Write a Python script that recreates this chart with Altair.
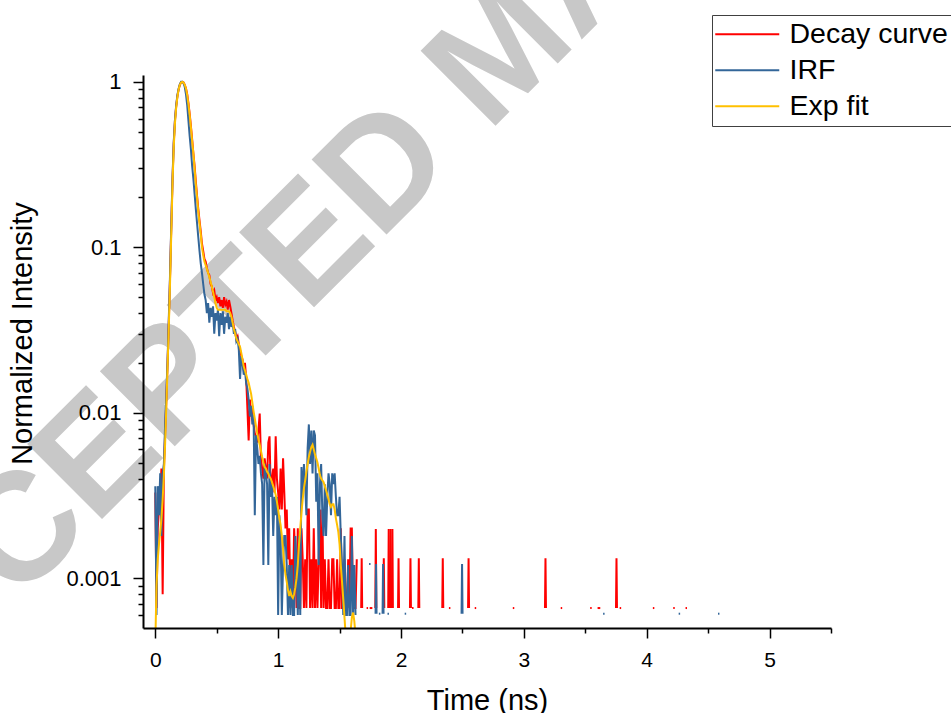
import altair as alt
import pandas as pd

SERIES = ["Decay curve", "IRF", "Exp fit"]
COLORS = ["#FF0000", "#336699", "#FFC000"]

T_STEP = 0.01  # ns between samples of the main part (starting at t = 0)

DECAY_MAIN = [
    0.0033, 0.00066, 0.002, 0.0026, 0.0033, 0.0046, 0.0008, 0.0045, 0.0075, 0.012,
    0.02, 0.035, 0.065, 0.13, 0.25, 0.42, 0.58, 0.71, 0.82, 0.90,
    0.96, 0.99, 1.0, 0.99, 0.96, 0.91, 0.84, 0.74, 0.64, 0.54,
    0.45, 0.37, 0.31, 0.25, 0.205, 0.17, 0.145, 0.125, 0.105, 0.095,
    0.085, 0.082, 0.075, 0.07, 0.068, 0.06, 0.058, 0.053, 0.055, 0.048,
    0.05, 0.046, 0.05, 0.044, 0.048, 0.043, 0.05, 0.045, 0.047, 0.042,
    0.048, 0.044, 0.04, 0.036, 0.033, 0.031, 0.028, 0.029, 0.026, 0.024,
    0.022, 0.021, 0.018, 0.02, 0.016, 0.0105, 0.0068, 0.012, 0.0095, 0.011,
    0.0085, 0.0075, 0.0072, 0.0066, 0.0079, 0.0099, 0.0053, 0.0046, 0.004, 0.0053,
    0.0046, 0.004, 0.0066, 0.0072, 0.0033, 0.004, 0.0046, 0.0033, 0.0072, 0.004,
    0.0033, 0.0026, 0.0046, 0.0026, 0.0053, 0.0033, 0.002, 0.0026, 0.0013, 0.002,
    0.00066, 0.0013, 0.00066, 0.002, 0.0013, 0.00066, 0.002, 0.00066, 0.00066, 0.002,
    0.0013, 0.00066, 0.0013, 0.00066, 0.0026, 0.0026, 0.00066, 0.0013, 0.00066, 0.002,
    0.00066, 0.0013, 0.00066, 0.0013, 0.0026, 0.00066, 0.0026, 0.00066, 0.0013, 0.00066,
    0.00066, 0.0013, 0.00066, 0.00066, 0.0013, 0.0013, 0.00066, 0.00066, 0.0013, 0.00066,
    0.00066, 0.002, 0.00066, 0.00066, 0.0013, 0.00066, 0.00066, 0.0013, 0.00066, 0.002,
    0.002, 0.00066, 0.00066, 0.00066, 0.0013,
]

IRF_MAIN = [
    0.0036, 0.0006, 0.0036, 0.0024, 0.0043, 0.0018, 0.0043, 0.0049, 0.0085, 0.013,
    0.021, 0.037, 0.068, 0.135, 0.26, 0.43, 0.59, 0.72, 0.83, 0.91,
    0.97, 1.0, 1.0, 0.98, 0.93, 0.84, 0.72, 0.58, 0.47, 0.39,
    0.31, 0.26, 0.21, 0.17, 0.14, 0.115, 0.095, 0.08, 0.07, 0.06,
    0.052, 0.048, 0.04, 0.046, 0.035, 0.043, 0.038, 0.044, 0.03, 0.04,
    0.036, 0.042, 0.029, 0.04, 0.034, 0.041, 0.03, 0.038, 0.035, 0.04,
    0.032, 0.038, 0.033, 0.035, 0.03, 0.032, 0.027, 0.028, 0.024, 0.016,
    0.022, 0.02, 0.017, 0.018, 0.015, 0.014, 0.012, 0.0095, 0.011, 0.0085,
    0.0098, 0.0024, 0.0073, 0.0061, 0.0049, 0.0055, 0.0043, 0.0037, 0.0012, 0.0049,
    0.0043, 0.0037, 0.0012, 0.0049, 0.0031, 0.0037, 0.0018, 0.0031, 0.0024, 0.0031,
    0.0006, 0.0024, 0.0018, 0.0006, 0.0012, 0.0018, 0.0018, 0.0012, 0.0006, 0.0012,
    0.0006, 0.0012, 0.0006, 0.0006, 0.0018, 0.0012, 0.0006, 0.0018, 0.0006, 0.0047,
    0.0031, 0.0049, 0.0037, 0.0024, 0.0061, 0.0085, 0.0049, 0.0078, 0.0043, 0.0078,
    0.0073, 0.0029, 0.0043, 0.0012, 0.0037, 0.0049, 0.0024, 0.0018, 0.0037, 0.0018,
    0.0031, 0.0043, 0.0037, 0.0024, 0.0043, 0.0037, 0.0043, 0.0031, 0.0024, 0.0024,
    0.0031, 0.0018, 0.0012, 0.0006, 0.0018, 0.0006, 0.0006, 0.0012, 0.0006, 0.0006,
    0.0018, 0.0006, 0.0012, 0.0006,
]

FIT_MAIN = [
    0.0004, 0.0009, 0.0013, 0.0016, 0.0019, 0.0023, 0.003, 0.0042, 0.0065, 0.011,
    0.019, 0.033, 0.06, 0.12, 0.24, 0.40, 0.56, 0.70, 0.81, 0.90,
    0.96, 0.99, 1.0, 0.99, 0.96, 0.91, 0.83, 0.73, 0.63, 0.53,
    0.44, 0.37, 0.30, 0.24, 0.20, 0.165, 0.14, 0.12, 0.10, 0.09,
    0.082, 0.078, 0.074, 0.07, 0.066, 0.062, 0.058, 0.054, 0.05, 0.046,
    0.043, 0.042, 0.042, 0.042, 0.042, 0.042, 0.042, 0.042, 0.041, 0.041,
    0.041, 0.040, 0.038, 0.035, 0.032, 0.030, 0.028, 0.027, 0.026, 0.025,
    0.023, 0.021, 0.019, 0.018, 0.017, 0.016, 0.0152, 0.014, 0.013, 0.0115,
    0.0102, 0.0092, 0.0083, 0.0075, 0.0069, 0.0064, 0.0059, 0.0054, 0.0050, 0.0047,
    0.0046, 0.0044, 0.0043, 0.0041, 0.0040, 0.0038, 0.0036, 0.0034, 0.0032, 0.0029,
    0.0026, 0.0023, 0.0021, 0.0018, 0.0015, 0.0012, 0.00105, 0.00095, 0.00085, 0.00078,
    0.00083, 0.00078, 0.00076, 0.0008, 0.00088, 0.001, 0.0012, 0.0016, 0.002, 0.0025,
    0.003, 0.0035, 0.0039, 0.0044, 0.0049, 0.0054, 0.0058, 0.0062, 0.0064, 0.0060,
    0.0056, 0.0053, 0.0050, 0.0046, 0.0042, 0.0040, 0.0039, 0.0038, 0.0036, 0.0034,
    0.0032, 0.0030, 0.0028, 0.0027, 0.0028, 0.0028, 0.0026, 0.0023, 0.0021, 0.0019,
    0.0016, 0.0012, 0.00095, 0.00075, 0.00058, 0.00045, 0.0004, 0.0004, 0.00042, 0.00048,
    0.00058, 0.00062, 0.00055, 0.00045, 0.0004,
]

# Sparse tail (single photon counts): level of one count for each curve
DECAY_ONE = 0.00066
IRF_ONE = 0.00061
SPIKE_HALF = 0.004
DOT_LEN = 0.012

DECAY_SPIKE_T = [1.68, 1.795, 1.86, 1.90, 1.915, 1.93, 1.98, 2.077, 2.145, 2.34, 2.55, 3.176, 3.754]
DECAY_SPIKE_N = [2, 3, 2, 3, 3, 3, 2, 2, 2, 2, 2, 2, 2]
DECAY_DOT_T = [1.72, 1.745, 1.755, 2.09, 2.39, 2.60, 2.91, 3.30, 3.54, 3.60, 3.61, 3.78, 4.05, 4.216, 4.316]
DECAY_DOT_N = [1] * 15

IRF_SPIKE_T = [1.797, 1.854, 2.497]
IRF_SPIKE_N = [2, 2, 2]
IRF_DOT_T = [1.74, 1.82, 1.89, 2.03, 3.645, 4.26, 4.58]
IRF_DOT_N = [2, 1, 1, 1, 1, 1, 1]

X_TICKS = [0, 1, 2, 3, 4, 5]
X_MINOR = [0.5, 1.5, 2.5, 3.5, 4.5, 5.5]
Y_TICKS = [0.001, 0.01, 0.1, 1]
Y_MINOR = [0.0006, 0.0007, 0.0008, 0.0009,
           0.002, 0.003, 0.004, 0.005, 0.006, 0.007, 0.008, 0.009,
           0.02, 0.03, 0.04, 0.05, 0.06, 0.07, 0.08, 0.09,
           0.2, 0.3, 0.4, 0.5, 0.6, 0.7, 0.8, 0.9]

WATERMARK = "ACCEPTED MANUSCRIPT"


def build(name, main, one, spike_t, spike_n, dot_t, dot_n):
    rows = []
    for i, v in enumerate(main):
        rows.append({"series": name, "seg": name + "-main", "t": round(i * T_STEP, 4), "v": v})
    for k, (tc, n) in enumerate(zip(spike_t, spike_n)):
        seg = f"{name}-s{k}"
        rows.append({"series": name, "seg": seg, "t": tc - SPIKE_HALF, "v": one})
        rows.append({"series": name, "seg": seg, "t": tc, "v": one * n})
        rows.append({"series": name, "seg": seg, "t": tc + SPIKE_HALF, "v": one})
    for k, (td, n) in enumerate(zip(dot_t, dot_n)):
        seg = f"{name}-d{k}"
        rows.append({"series": name, "seg": seg, "t": td, "v": one * n})
        rows.append({"series": name, "seg": seg, "t": td + DOT_LEN, "v": one * n})
    return pd.DataFrame(rows)


df_decay = build(SERIES[0], DECAY_MAIN, DECAY_ONE, DECAY_SPIKE_T, DECAY_SPIKE_N, DECAY_DOT_T, DECAY_DOT_N)
df_irf = build(SERIES[1], IRF_MAIN, IRF_ONE, IRF_SPIKE_T, IRF_SPIKE_N, IRF_DOT_T, IRF_DOT_N)
df_fit = build(SERIES[2], FIT_MAIN, 0.0006, [], [], [], [])

FONT = "Liberation Sans"

xscale = alt.Scale(domain=[-0.1, 5.5], nice=False, zero=False)
yscale = alt.Scale(type="log", domain=[0.0005, 1.1], nice=False)
color = alt.Color(
    "series:N",
    scale=alt.Scale(domain=SERIES, range=COLORS),
    sort=SERIES,
    legend=alt.Legend(
        orient="none", legendX=569, legendY=-60, title=None,
        symbolType="M-3.2,0H9.6", symbolSize=100, symbolStrokeWidth=2,
        labelFontSize=28.5, labelFont=FONT, labelColor="black", labelLimit=400,
        labelOffset=44, rowPadding=7, padding=5,
        strokeColor="#404040", fillColor="white",
    ),
)

x_main = alt.X("t:Q", scale=xscale, axis=alt.Axis(
    values=X_TICKS, format="d", title="Time (ns)", grid=False, orient="bottom", zindex=1,
    tickSize=10, tickWidth=1.5, tickColor="black", domainColor="black", domainWidth=2,
    labelFontSize=21, labelFont=FONT, labelColor="black", labelPadding=11, labelFlush=False,
    titleFontSize=29, titleFont=FONT, titleFontWeight="normal", titleColor="black",
    titleY=81, titleBaseline="alphabetic",
))
x_minor = alt.X("t:Q", scale=xscale, axis=alt.Axis(
    values=X_MINOR, labels=False, domain=False, grid=False, title=None, orient="bottom", zindex=1,
    tickSize=5, tickWidth=1.5, tickColor="black",
))
y_main = alt.Y("v:Q", scale=yscale, axis=alt.Axis(
    values=Y_TICKS, format="~g", title="Normalized Intensity", grid=False, orient="left", zindex=1,
    tickSize=10, tickWidth=1.5, tickColor="black", domainColor="black", domainWidth=2,
    labelFontSize=22, labelFont=FONT, labelColor="black", labelPadding=12,
    titleFontSize=29, titleFont=FONT, titleFontWeight="normal", titleColor="black",
    titleX=-121, titleY=258, titleAngle=270, titleAlign="center", titleBaseline="middle",
))
y_minor = alt.Y("v:Q", scale=yscale, axis=alt.Axis(
    values=Y_MINOR, labels=False, domain=False, grid=False, title=None, orient="left", zindex=1,
    tickSize=5, tickWidth=1.5, tickColor="black",
))

wm = alt.Chart(pd.DataFrame({"txt": [WATERMARK]})).mark_text(
    font=FONT, fontWeight="bold", fontSize=154, color="#C8C8C8",
    angle=315, align="center", baseline="middle",
).encode(text="txt:N", x=alt.value(361), y=alt.value(-23))

red = alt.Chart(df_decay).mark_line(strokeWidth=2, clip=True).encode(
    x=x_main, y=y_main, color=color, detail="seg:N", order="t:Q")
blue = alt.Chart(df_irf).mark_line(strokeWidth=2, clip=True).encode(
    x=x_minor, y=y_minor, color=color, detail="seg:N", order="t:Q")
fit = alt.Chart(df_fit).mark_line(strokeWidth=2, clip=True).encode(
    x=alt.X("t:Q", scale=xscale, axis=None), y=alt.Y("v:Q", scale=yscale, axis=None),
    color=color, detail="seg:N", order="t:Q")

chart = alt.layer(wm, red, blue, fit).resolve_axis(x="independent", y="independent").properties(
    width=688, height=553,
    autosize=alt.AutoSizeParams(type="none"),
    padding={"left": 143, "top": 75, "right": 120, "bottom": 85},
).configure(background="white").configure_view(strokeWidth=0, strokeOpacity=0)

chart.save("out.html", embed_options={"renderer": "svg", "actions": False})
